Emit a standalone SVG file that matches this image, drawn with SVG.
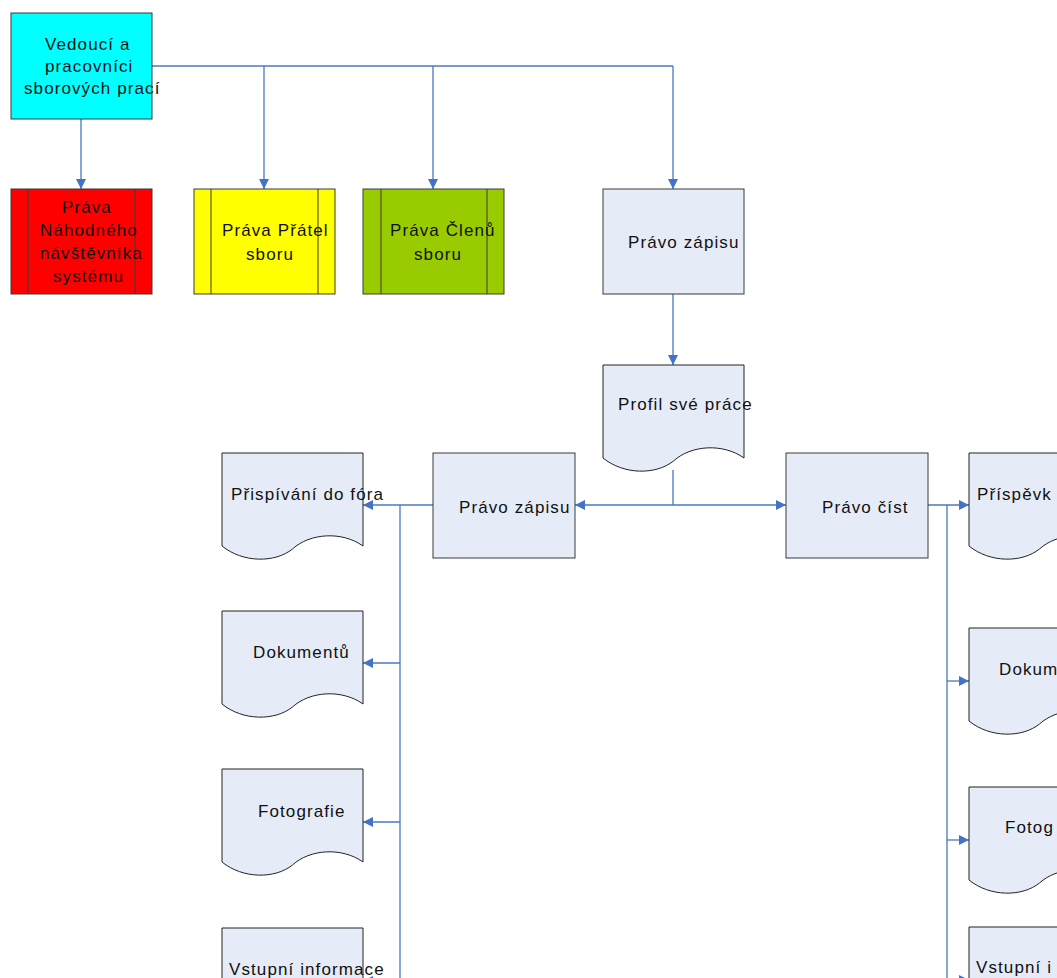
<svg xmlns="http://www.w3.org/2000/svg" xmlns:xlink="http://www.w3.org/1999/xlink" width="1057" height="978" viewBox="0 0 1057 978">
<style>
.box{stroke:#3a3a3a;stroke-width:1}
.doc{fill:#e6ecf7;stroke:#222;stroke-width:1}
.pale{fill:#e6ecf7}
.t{font-family:"Liberation Sans",Arial,sans-serif;font-size:17px;letter-spacing:1.1px;fill:#111}
.c{fill:none;stroke:#4a78c0;stroke-width:1.3}
.a{fill:none;stroke:#4a78c0;stroke-width:1.3;marker-end:url(#ah)}
</style>
<defs>
<marker id="ah" viewBox="0 0 10 10" refX="10" refY="5" markerWidth="10" markerHeight="12" markerUnits="userSpaceOnUse" orient="auto"><path d="M0,0 L10,5 L0,10 Z" fill="#4472c4"/></marker>
<path id="docshape" d="M0,0 H141 V93 C120,78 88,80 70.5,96 C53,110 21,110 0,93 Z"/>
</defs>
<rect width="1057" height="978" fill="#fff"/>
<g id="connectors">
<path class="c" d="M152,66 H673"/>
<path class="a" d="M81,119 V189"/>
<path class="a" d="M264,66 V189"/>
<path class="a" d="M433,66 V189"/>
<path class="a" d="M673,66 V189"/>
<path class="a" d="M673,294 V365"/>
<path class="c" d="M673,470 V505"/>
<path class="a" d="M673,505 H575"/>
<path class="a" d="M673,505 H786"/>
<path class="a" d="M433,505 H363"/>
<path class="c" d="M400,505 V978"/>
<path class="a" d="M400,663 H363"/>
<path class="a" d="M400,822 H363"/>
<path class="a" d="M400,981 H363"/>
<path class="a" d="M928,505 H969"/>
<path class="c" d="M947,505 V978"/>
<path class="a" d="M947,681 H969"/>
<path class="a" d="M947,840 H969"/>
<path class="a" d="M947,980 H969"/>
</g>
<g id="vedouci">
<rect class="box" x="11" y="13" width="141" height="106" fill="#00ffff"/>
<text class="t" x="45" y="50">Vedoucí a</text>
<text class="t" x="45" y="72">pracovníci</text>
<text class="t" x="24" y="94">sborových prací</text>
</g>
<g id="nahodny">
<rect class="box" x="11" y="189" width="141" height="105" fill="#ff0000"/>
<path class="box" d="M28,189 V294 M135,189 V294" fill="none"/>
<text class="t" x="62" y="213">Práva</text>
<text class="t" x="40" y="236">Náhodného</text>
<text class="t" x="40" y="259">návštěvníka</text>
<text class="t" x="53" y="282">systému</text>
</g>
<g id="pratele">
<rect class="box" x="194" y="189" width="141" height="105" fill="#ffff00"/>
<path class="box" d="M211,189 V294 M318,189 V294" fill="none"/>
<text class="t" x="222" y="236">Práva Přátel</text>
<text class="t" x="246" y="260">sboru</text>
</g>
<g id="clenove">
<rect class="box" x="363" y="189" width="141" height="105" fill="#99cc00"/>
<path class="box" d="M381,189 V294 M487,189 V294" fill="none"/>
<text class="t" x="390" y="236">Práva Členů</text>
<text class="t" x="414" y="260">sboru</text>
</g>
<g id="pravo-zapisu-top">
<rect class="box pale" x="603" y="189" width="141" height="105"/>
<text class="t" x="628" y="248">Právo zápisu</text>
</g>
<g id="profil">
<use xlink:href="#docshape" class="doc" transform="translate(603,365)"/>
<text class="t" x="618" y="410">Profil své práce</text>
</g>
<g id="pravo-zapisu">
<rect class="box pale" x="433" y="453" width="142" height="105"/>
<text class="t" x="459" y="513">Právo zápisu</text>
</g>
<g id="pravo-cist">
<rect class="box pale" x="786" y="453" width="142" height="105"/>
<text class="t" x="822" y="513">Právo číst</text>
</g>
<g id="doc-fora">
<use xlink:href="#docshape" class="doc" transform="translate(222,453)"/>
<text class="t" x="231" y="500">Přispívání do fóra</text>
</g>
<g id="doc-dokumentu">
<use xlink:href="#docshape" class="doc" transform="translate(222,611)"/>
<text class="t" x="253" y="658">Dokumentů</text>
</g>
<g id="doc-fotografie">
<use xlink:href="#docshape" class="doc" transform="translate(222,769)"/>
<text class="t" x="258" y="817">Fotografie</text>
</g>
<g id="doc-vstupni">
<use xlink:href="#docshape" class="doc" transform="translate(222,928)"/>
<text class="t" x="229" y="975">Vstupní informace</text>
</g>
<g id="r-prispevky">
<use xlink:href="#docshape" class="doc" transform="translate(969,453)"/>
<text class="t" x="977" y="500">Příspěvk</text>
</g>
<g id="r-dokumenty">
<use xlink:href="#docshape" class="doc" transform="translate(969,628)"/>
<text class="t" x="999" y="675" letter-spacing="0.8">Dokum</text>
</g>
<g id="r-fotografie">
<use xlink:href="#docshape" class="doc" transform="translate(969,787)"/>
<text class="t" x="1005" y="833">Fotog</text>
</g>
<g id="r-vstupni">
<use xlink:href="#docshape" class="doc" transform="translate(969,927)"/>
<text class="t" x="976" y="973">Vstupní i</text>
</g>
</svg>
